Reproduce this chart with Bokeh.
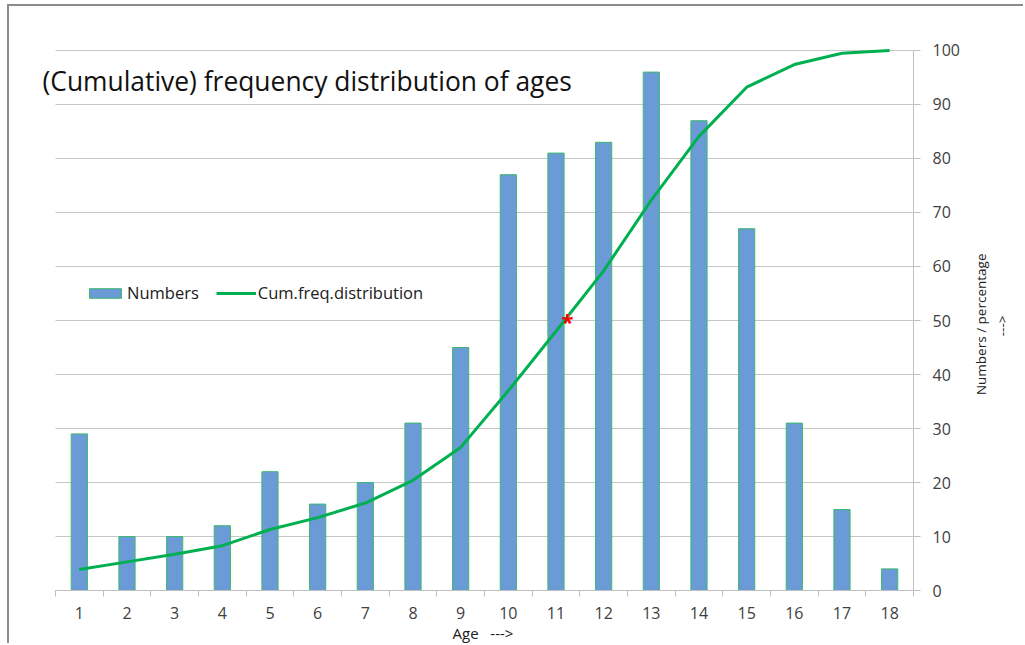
from bokeh.plotting import figure
from bokeh.models import Range1d, FixedTicker, Legend, LegendItem, Label, ColumnDataSource
from bokeh.core.properties import value
from bokeh.embed import file_html
from bokeh.resources import INLINE
import math

# Age classes and head counts per class
ages = [1, 2, 3, 4, 5, 6, 7, 8, 9, 10, 11, 12, 13, 14, 15, 16, 17, 18]
numbers = [29, 10, 10, 12, 22, 16, 20, 31, 45, 77, 81, 83, 96, 87, 67, 31, 15, 4]
# Cumulative frequency distribution in percent
cum_pct = [3.9, 5.3, 6.7, 8.3, 11.3, 13.5, 16.2, 20.4, 26.5, 37.0, 48.0, 59.2,
           72.3, 84.1, 93.2, 97.4, 99.5, 100.0]
# Median point on the cumulative curve
median_age = [11.24]
median_pct = [50.0]

y_ticks = [0, 10, 20, 30, 40, 50, 60, 70, 80, 90, 100]

FONT = "Open Sans"
TXT = "#404040"
AXIS = "#bfbfbf"
X0, X1 = 0.5, 18.5
Y0, Y1 = 0, 100
NB = "\u00a0"

src = ColumnDataSource(dict(age=ages, n=numbers, cum=cum_pct))

# the plotting frame fills the canvas; both axes are pinned to data locations
p = figure(width=1016, height=639, output_backend="svg", toolbar_location=None,
           x_range=Range1d(-0.0245, 20.85), y_range=Range1d(-10.185, 108.148),
           y_axis_location="right",
           min_border_left=21, min_border_right=0,
           min_border_top=0, min_border_bottom=0)
p.margin = (4, 0, 0, 7)
p.styles = {"border-top": "2px solid #8c8c8c", "border-left": "2px solid #8c8c8c"}
p.outline_line_color = None
p.background_fill_color = "white"
p.border_fill_color = "white"

# horizontal gridlines limited to the category span
p.xgrid.visible = False
p.ygrid.visible = False
p.segment(x0=[X0] * len(y_ticks), x1=[X1] * len(y_ticks), y0=y_ticks, y1=y_ticks,
          line_color="#c6c6c6", line_width=1)

bars = p.vbar(x="age", top="n", width=0.34, source=src,
              fill_color="#6a9bd6", line_color="#3cba6e", line_width=1)
line = p.line(x="age", y="cum", source=src, line_color="#00b050", line_width=3)
p.text(x=median_age, y=median_pct, text=["*"], text_color="red",
       text_font=value(FONT), text_font_size="22px", text_font_style="bold",
       text_align="center", text_baseline="middle", y_offset=0)

# value axis at the right end of the categories
ya = p.yaxis[0]
ya.fixed_location = X1
ya.bounds = (Y0, Y1)
ya.ticker = FixedTicker(ticks=y_ticks)
ya.axis_line_color = AXIS
ya.major_tick_line_color = AXIS
ya.major_tick_in = 0
ya.major_tick_out = 7
ya.minor_tick_line_color = None
ya.major_label_text_font = FONT
ya.major_label_text_font_size = "16px"
ya.major_label_text_color = TXT
ya.major_label_standoff = 12

# value axis title, reading upwards
p.add_layout(Label(x=19.906, y=49.3, text="Numbers / percentage", angle=math.pi / 2,
                   text_align="center", text_baseline="middle",
                   text_font=FONT, text_font_size="13.5px", text_color="#202020"))
p.add_layout(Label(x=20.367, y=49.0, text="--->", angle=math.pi / 2,
                   text_align="center", text_baseline="middle",
                   text_font=FONT, text_font_size="13.5px", text_color="#202020"))

# category axis at zero: labels at class centres, tick marks between classes
xa = p.xaxis[0]
xa.fixed_location = Y0
xa.bounds = (X0, X1)
xa.ticker = FixedTicker(ticks=ages, minor_ticks=[a - 0.5 for a in ages] + [X1])
xa.axis_line_color = AXIS
xa.major_tick_line_color = None
xa.minor_tick_line_color = AXIS
xa.minor_tick_in = 0
xa.minor_tick_out = 6
xa.major_label_text_font = FONT
xa.major_label_text_font_size = "16px"
xa.major_label_text_color = TXT
xa.major_label_standoff = 10

p.add_layout(Label(x=8.83, y=-7.95, text="Age" + NB * 3 + "--->",
                   text_align="left", text_baseline="middle",
                   text_font=FONT, text_font_size="15px", text_color="#202020"))

# chart title
p.add_layout(Label(x=0.2273, y=94.4, text="(Cumulative) frequency distribution of ages",
                   text_align="left", text_baseline="middle",
                   text_font=FONT, text_font_size="26.4px", text_color="#111111"))

legend = Legend(items=[LegendItem(label="Numbers", renderers=[bars]),
                       LegendItem(label="Cum.freq.distribution", renderers=[line])],
                orientation="horizontal", location=(55, 341),
                padding=0, margin=0, spacing=17, label_standoff=2,
                glyph_width=40, glyph_height=12,
                background_fill_alpha=0, border_line_color=None,
                label_text_font=FONT, label_text_font_size="16.5px",
                label_text_color="#202020")
p.add_layout(legend, "center")

open("out.html", "w").write(file_html(p, INLINE))
